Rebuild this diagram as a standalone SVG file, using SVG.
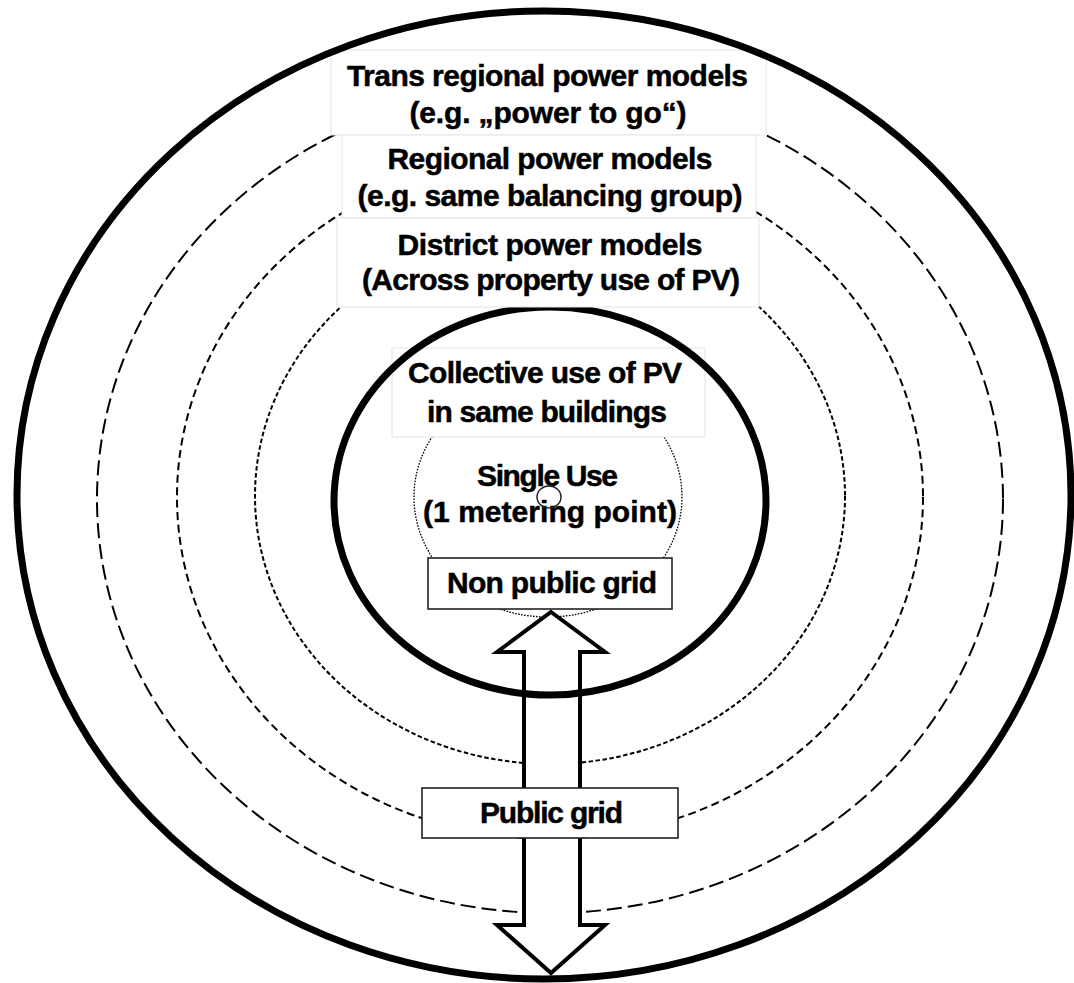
<svg xmlns="http://www.w3.org/2000/svg" width="1074" height="983" viewBox="0 0 1074 983">
  <style>
    .ring { fill: none; stroke: #000; }
    .lbl { font-family: "Liberation Sans", Arial, Helvetica, sans-serif; font-weight: bold; font-size: 30px; fill: #000; stroke: #000; stroke-width: 0.5px; text-anchor: middle; }
    .soft { fill: #fff; stroke: #e4e4e4; stroke-width: 1; }
    .frame { fill: #fff; stroke: #222; stroke-width: 1.6; }
  </style>
  <rect x="0" y="0" width="1074" height="983" fill="#fff"/>

  <!-- scope rings, widest to narrowest -->
  <g id="ring-transregional">
    <ellipse class="ring" cx="550" cy="499" rx="453" ry="414" stroke-width="2" stroke-dasharray="15 6"/>
  </g>
  <g id="ring-regional">
    <ellipse class="ring" cx="550" cy="497" rx="373" ry="342" stroke-width="2" stroke-dasharray="8 4.5"/>
  </g>
  <g id="ring-district">
    <ellipse class="ring" cx="550" cy="496" rx="295" ry="268" stroke-width="2" stroke-dasharray="4.5 2.5"/>
  </g>
  <g id="ring-single">
    <ellipse class="ring" cx="548" cy="497" rx="134" ry="120" stroke="#333" stroke-width="1.3" stroke-dasharray="1.6 1.4"/>
  </g>

  <!-- grid exchange: double-headed block arrow -->
  <g id="connectors">
    <path d="M551 612 L605 652 L580 652 L580 925 L605 925 L551 973 L497 925 L524 925 L524 652 L497 652 Z"
          fill="#fff" stroke="#000" stroke-width="4" stroke-linejoin="miter"/>
  </g>

  <g id="node-collective">
    <rect class="soft" x="392" y="348" width="313" height="89"/>
    <text class="lbl" x="545" y="383" textLength="274" lengthAdjust="spacing">Collective use of PV</text>
    <text class="lbl" x="547" y="422" textLength="240" lengthAdjust="spacing">in same buildings</text>
  </g>

  <g id="ring-building">
    <ellipse class="ring" cx="550" cy="501" rx="216" ry="194" stroke-width="7"/>
  </g>

  <g id="node-transregional">
    <rect class="soft" x="331" y="50" width="435" height="85"/>
    <text class="lbl" x="547.5" y="86" textLength="401" lengthAdjust="spacing">Trans regional power models</text>
    <text class="lbl" x="548" y="123" textLength="277" lengthAdjust="spacing">(e.g. „power to go“)</text>
  </g>
  <g id="node-regional">
    <rect class="soft" x="342" y="135" width="414" height="83"/>
    <text class="lbl" x="550" y="169" textLength="325" lengthAdjust="spacing">Regional power models</text>
    <text class="lbl" x="550" y="206" textLength="385" lengthAdjust="spacing">(e.g. same balancing group)</text>
  </g>
  <g id="node-district">
    <rect class="soft" x="337" y="218" width="422" height="89"/>
    <text class="lbl" x="550" y="255" textLength="305" lengthAdjust="spacing">District power models</text>
    <text class="lbl" x="551" y="290" textLength="378" lengthAdjust="spacing">(Across property use of PV)</text>
  </g>

  <g id="node-single">
    <text class="lbl" x="547.5" y="486" textLength="141" lengthAdjust="spacing">Single Use</text>
    <text class="lbl" x="550" y="522" textLength="254" lengthAdjust="spacing">(1 metering point)</text>
  </g>

  <g id="node-nonpublic">
    <rect class="frame" x="428" y="558" width="244" height="51"/>
    <text class="lbl" x="552" y="593" textLength="210" lengthAdjust="spacing">Non public grid</text>
  </g>

  <g id="node-public">
    <rect class="frame" x="422" y="788" width="256" height="50" stroke="#444"/>
    <text class="lbl" x="551.5" y="823" textLength="143" lengthAdjust="spacing">Public grid</text>
  </g>

  <g id="ring-outer">
    <ellipse class="ring" cx="544" cy="495" rx="527" ry="484" stroke-width="7"/>
  </g>

  <g id="metering-point">
    <ellipse cx="549" cy="497" rx="12" ry="11" fill="none" stroke="#222" stroke-width="1.5"/>
  </g>
</svg>
